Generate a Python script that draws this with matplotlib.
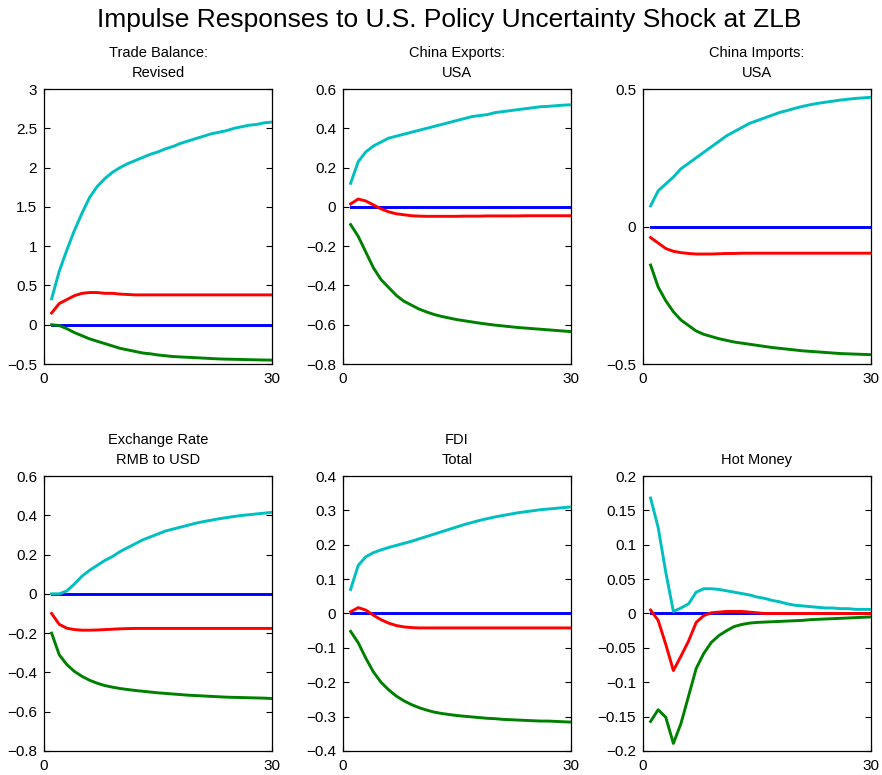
import numpy as np
import matplotlib
matplotlib.use("Agg")
import matplotlib.pyplot as plt

plt.rcParams["font.family"] = ["Liberation Sans", "DejaVu Sans"]

horizon = np.arange(1, 31)

titles = [
    "Trade Balance:\nRevised",
    "China Exports:\nUSA",
    "China Imports:\nUSA",
    "Exchange Rate\nRMB to USD",
    "FDI\nTotal",
    "Hot Money",
]

# Upper band, lower band and median responses for each variable
trade_upper = [0.33, 0.68, 0.95, 1.20, 1.42, 1.62, 1.76, 1.86, 1.94, 2.00,
               2.05, 2.09, 2.13, 2.17, 2.20, 2.24, 2.27, 2.31, 2.34, 2.37,
               2.40, 2.43, 2.45, 2.47, 2.50, 2.52, 2.54, 2.55, 2.57, 2.58]
trade_median = [0.15, 0.27, 0.32, 0.37, 0.40, 0.41, 0.41, 0.40, 0.40, 0.39,
                0.385, 0.38, 0.38, 0.38, 0.38, 0.38, 0.38, 0.38, 0.38, 0.38,
                0.38, 0.38, 0.38, 0.38, 0.38, 0.38, 0.38, 0.38, 0.38, 0.38]
trade_lower = [0.00, -0.01, -0.05, -0.10, -0.14, -0.18, -0.21, -0.24, -0.27, -0.30,
               -0.32, -0.34, -0.36, -0.37, -0.385, -0.395, -0.405, -0.41, -0.415, -0.42,
               -0.425, -0.43, -0.435, -0.438, -0.44, -0.442, -0.445, -0.447, -0.449, -0.45]

exports_upper = [0.12, 0.23, 0.28, 0.31, 0.33, 0.35, 0.36, 0.37, 0.38, 0.39,
                 0.40, 0.41, 0.42, 0.43, 0.44, 0.45, 0.46, 0.465, 0.47, 0.48,
                 0.485, 0.49, 0.495, 0.50, 0.505, 0.51, 0.512, 0.515, 0.518, 0.52]
exports_median = [0.015, 0.04, 0.03, 0.01, -0.01, -0.025, -0.035, -0.04, -0.045, -0.047,
                  -0.048, -0.048, -0.048, -0.048, -0.048, -0.047, -0.047, -0.047, -0.046, -0.046,
                  -0.046, -0.046, -0.046, -0.045, -0.045, -0.045, -0.045, -0.045, -0.045, -0.045]
exports_lower = [-0.09, -0.15, -0.23, -0.31, -0.37, -0.41, -0.45, -0.48, -0.50, -0.52,
                 -0.535, -0.548, -0.558, -0.566, -0.574, -0.58, -0.586, -0.592, -0.597, -0.602,
                 -0.606, -0.61, -0.614, -0.617, -0.62, -0.623, -0.626, -0.629, -0.632, -0.635]

imports_upper = [0.075, 0.13, 0.155, 0.18, 0.21, 0.23, 0.25, 0.27, 0.29, 0.31,
                 0.33, 0.345, 0.36, 0.375, 0.385, 0.395, 0.405, 0.415, 0.422, 0.43,
                 0.437, 0.443, 0.448, 0.452, 0.456, 0.46, 0.463, 0.466, 0.468, 0.47]
imports_median = [-0.04, -0.06, -0.08, -0.09, -0.095, -0.098, -0.10, -0.10, -0.10, -0.099,
                  -0.098, -0.098, -0.097, -0.097, -0.097, -0.097, -0.097, -0.097, -0.097, -0.097,
                  -0.097, -0.097, -0.097, -0.097, -0.097, -0.097, -0.097, -0.097, -0.097, -0.097]
imports_lower = [-0.14, -0.22, -0.27, -0.31, -0.34, -0.36, -0.38, -0.392, -0.40, -0.408,
                 -0.414, -0.42, -0.424, -0.428, -0.432, -0.436, -0.44, -0.443, -0.446, -0.449,
                 -0.452, -0.454, -0.456, -0.458, -0.46, -0.462, -0.463, -0.464, -0.465, -0.466]

fx_upper = [0.0, 0.0, 0.015, 0.05, 0.09, 0.12, 0.145, 0.17, 0.19, 0.215,
            0.235, 0.255, 0.275, 0.29, 0.305, 0.32, 0.33, 0.34, 0.35, 0.36,
            0.368, 0.375, 0.382, 0.388, 0.394, 0.399, 0.403, 0.407, 0.411, 0.415]
fx_median = [-0.10, -0.155, -0.175, -0.182, -0.185, -0.185, -0.184, -0.182, -0.18, -0.178,
             -0.177, -0.176, -0.176, -0.176, -0.176, -0.176, -0.176, -0.176, -0.176, -0.176,
             -0.176, -0.176, -0.176, -0.176, -0.176, -0.176, -0.176, -0.176, -0.176, -0.176]
fx_lower = [-0.20, -0.31, -0.36, -0.395, -0.42, -0.44, -0.455, -0.467, -0.475, -0.482,
            -0.487, -0.492, -0.496, -0.50, -0.504, -0.507, -0.51, -0.513, -0.516, -0.518,
            -0.52, -0.522, -0.524, -0.526, -0.527, -0.528, -0.529, -0.53, -0.531, -0.533]

fdi_upper = [0.07, 0.14, 0.165, 0.177, 0.185, 0.192, 0.198, 0.204, 0.21, 0.217,
             0.224, 0.231, 0.238, 0.245, 0.252, 0.259, 0.265, 0.271, 0.276, 0.281,
             0.285, 0.289, 0.293, 0.296, 0.299, 0.302, 0.304, 0.306, 0.308, 0.31]
fdi_median = [0.005, 0.017, 0.01, -0.005, -0.018, -0.028, -0.035, -0.039, -0.041, -0.042,
              -0.042, -0.042, -0.042, -0.042, -0.042, -0.042, -0.042, -0.042, -0.042, -0.042,
              -0.042, -0.042, -0.042, -0.042, -0.042, -0.042, -0.042, -0.042, -0.042, -0.042]
fdi_lower = [-0.052, -0.085, -0.13, -0.17, -0.20, -0.222, -0.24, -0.254, -0.265, -0.274,
             -0.281, -0.287, -0.291, -0.294, -0.297, -0.299, -0.301, -0.303, -0.305, -0.306,
             -0.308, -0.309, -0.31, -0.311, -0.312, -0.313, -0.313, -0.314, -0.315, -0.316]

hot_upper = [0.168, 0.125, 0.06, 0.003, 0.008, 0.014, 0.031, 0.036, 0.036, 0.035,
             0.033, 0.031, 0.029, 0.027, 0.024, 0.022, 0.019, 0.017, 0.014, 0.012,
             0.011, 0.010, 0.009, 0.008, 0.008, 0.007, 0.007, 0.006, 0.006, 0.006]
hot_median = [0.005, -0.01, -0.045, -0.083, -0.062, -0.04, -0.013, -0.003, 0.001, 0.002,
              0.003, 0.003, 0.003, 0.002, 0.001, 0.0, 0.0, 0.0, 0.0, 0.0,
              0.0, 0.0, 0.0, 0.0, 0.0, 0.0, 0.0, 0.0, 0.0, 0.0]
hot_lower = [-0.157, -0.14, -0.151, -0.189, -0.16, -0.12, -0.08, -0.058, -0.042, -0.032,
             -0.025, -0.019, -0.016, -0.014, -0.013, -0.0125, -0.012, -0.0115, -0.011, -0.0105,
             -0.01, -0.009, -0.0085, -0.008, -0.0075, -0.007, -0.0065, -0.006, -0.0055, -0.005]

uppers = [trade_upper, exports_upper, imports_upper, fx_upper, fdi_upper, hot_upper]
medians = [trade_median, exports_median, imports_median, fx_median, fdi_median, hot_median]
lowers = [trade_lower, exports_lower, imports_lower, fx_lower, fdi_lower, hot_lower]

y_limits = [(-0.5, 3), (-0.8, 0.6), (-0.5, 0.5), (-0.8, 0.6), (-0.4, 0.4), (-0.2, 0.2)]
y_ticks = [
    np.arange(-0.5, 3.01, 0.5),
    np.arange(-0.8, 0.61, 0.2),
    [-0.5, 0, 0.5],
    np.arange(-0.8, 0.61, 0.2),
    np.arange(-0.4, 0.41, 0.1),
    np.arange(-0.2, 0.21, 0.05),
]
tick_fmt = ["{:g}", "{:.1f}", "{:g}", "{:.1f}", "{:.1f}", "{:g}"]

fig = plt.figure(figsize=(8.82, 7.75), dpi=100)
fig.suptitle("Impulse Responses to U.S. Policy Uncertainty Shock at ZLB",
             fontsize=19, x=0.509, y=0.99)

lefts = [0.0499, 0.3889, 0.729]
bottoms = [0.5303, 0.031]
w, h = 0.2585, 0.3548

lw = 2.1
for i in range(6):
    ax = fig.add_axes([lefts[i % 3], bottoms[i // 3], w, h])
    zero = np.zeros(len(horizon))
    ax.plot(horizon, zero, color="#0000ff", lw=lw, zorder=2)
    ax.plot(horizon, uppers[i], color="#00bfbf", lw=lw, zorder=3)
    ax.plot(horizon, lowers[i], color="#008000", lw=lw, zorder=3)
    ax.plot(horizon, medians[i], color="#ff0000", lw=lw, zorder=4)
    ax.set_xlim(0, 30)
    ax.set_ylim(*y_limits[i])
    ax.set_xticks([0, 30])
    ax.set_yticks(y_ticks[i])
    fmt = tick_fmt[i]
    labels = []
    for v in y_ticks[i]:
        s = fmt.format(round(float(v), 4))
        if s in ("-0", "-0.0", "0.0"):
            s = "0"
        labels.append(s.replace("-", "\u2212"))
    ax.set_yticklabels(labels)
    ax.tick_params(direction="in", length=4, width=0.8, labelsize=11,
                   top=True, right=True)
    ax.tick_params(axis="x", pad=6)
    ax.tick_params(axis="y", pad=5)
    for sp in ax.spines.values():
        sp.set_linewidth(0.9)
    ax.set_title(titles[i], fontsize=10.5, pad=9, linespacing=1.5)

fig.savefig("out.png", dpi=100)
